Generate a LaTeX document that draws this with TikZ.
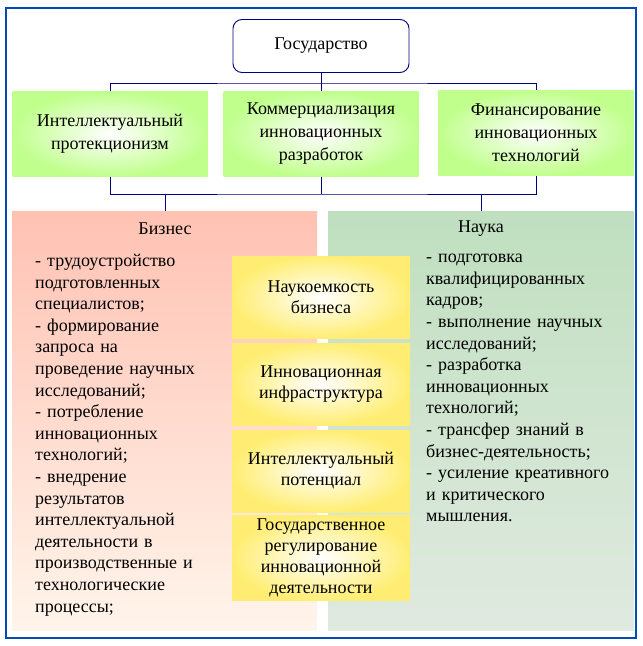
\documentclass[tikz,border=0pt]{standalone}
\usepackage{fontspec}
\setmainfont{Liberation Serif}
\usetikzlibrary{shadings}
\begin{document}
\begin{tikzpicture}
  [
    x=1pt,y=-1pt,
    link/.style={draw=blue!50!black,line width=0.9pt},
    topbox/.style={draw=blue!50!black,fill=white,rounded corners=9pt,line width=0.9pt,
      minimum width=176pt,minimum height=53pt,font=\fontsize{18}{21}\selectfont},
    greenbox/.style={inner color=white,outer color=green!55!yellow!45,
      minimum width=195pt,minimum height=85pt,align=center,
      font=\fontsize{18}{23}\selectfont},
    yellowbox/.style={inner color=white,outer color=yellow!75!orange!55,
      minimum width=178pt,minimum height=82pt,align=center,
      font=\fontsize{18}{21}\selectfont},
    listtext/.style={align=left,text width=200pt,inner sep=0pt,anchor=north west,
      font=\fontsize{18}{21.6}\selectfont}
  ]
  \useasboundingbox (0,0) rectangle (643,646);
  \draw [draw=blue!40!teal,line width=1.3pt] (6,8) rectangle (636,638);

  % top level
  \node (st) at (321,46) [topbox] {Государство};
  \node (g1) at (110,134) [greenbox] {Интеллектуальный\\протекционизм};
  \node (g2) at (321,134) [greenbox] {Коммерциализация\\инновационных\\разработок};
  \node (g3) at (536,133) [greenbox] {Финансирование\\инновационных\\технологий};

  % panels
  \shade [top color=orange!40!red!30,bottom color=orange!8] (12,211) rectangle (317,630);
  \shade [top color=green!50!black!25,bottom color=green!30!black!12] (328,211) rectangle (634,630);
  \node (biz) at (165,229) [font=\fontsize{18}{21}\selectfont] {Бизнес};
  \node (sci) at (481,229) [font=\fontsize{18}{21}\selectfont] {Наука};
  \coordinate (bt) at (165,211);
  \coordinate (nt) at (481,211);

  \node (bl) at (35,254) [listtext] {- трудоустройство\\подготовленных\\специалистов;\\- формирование\\запроса на\\проведение научных\\исследований;\\- потребление\\инновационных\\технологий;\\- внедрение\\результатов\\интеллектуальной\\деятельности в\\производственные и\\технологические\\процессы;};
  \node (nl) at (426,254) [listtext] {- подготовка\\квалифицированных\\кадров;\\- выполнение научных\\исследований;\\- разработка\\инновационных\\технологий;\\- трансфер знаний в\\бизнес-деятельность;\\- усиление креативного\\и критического\\мышления.};

  % middle column
  \node (y1) at (321,297) [yellowbox] {Наукоемкость\\бизнеса};
  \node (y2) at (321,384) [yellowbox] {Инновационная\\инфраструктура};
  \node (y3) at (321,471) [yellowbox] {Интеллектуальный\\потенциал};
  \node (y4) at (321,558) [yellowbox] {Государственное\\регулирование\\инновационной\\деятельности};

  % connectors
  \draw [link] (st.south) -- (321,83);
  \draw [link] (g1.north) |- (321,83) -| (g3.north);
  \draw [link] (321,83) -- (g2.north);
  \draw [link] (g1.south) |- (321,194) -| (g3.south);
  \draw [link] (g2.south) -- (321,194);
  \draw [link] (bt) -- (165,194);
  \draw [link] (nt) -- (481,194);
\end{tikzpicture}
\end{document}
